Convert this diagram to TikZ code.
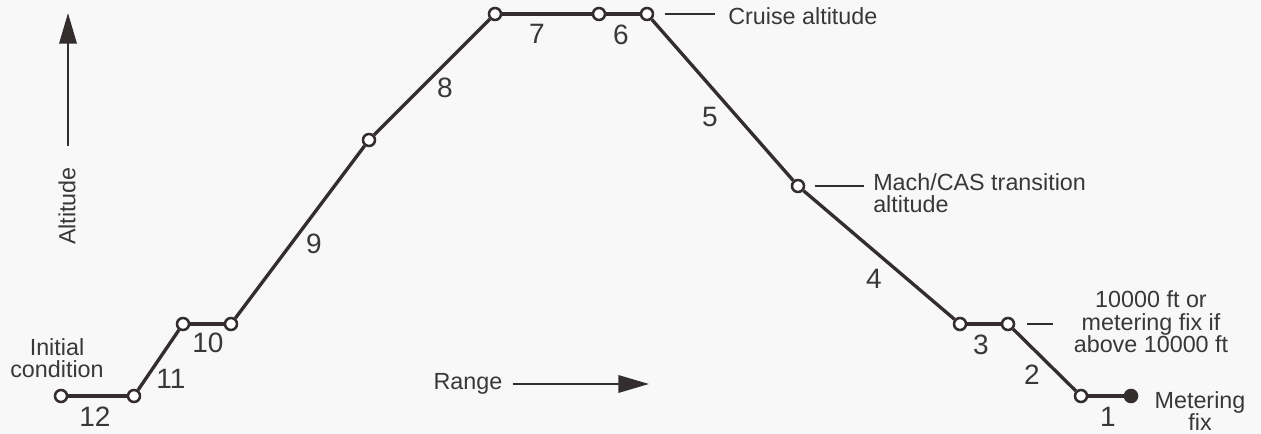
\documentclass[tikz,border=0pt]{standalone}
\usepackage{fontspec}
\setmainfont{Liberation Sans}
\usetikzlibrary{arrows.meta}
\definecolor{ink}{HTML}{332D2D}
\definecolor{txt}{HTML}{383838}
\definecolor{bg}{HTML}{F8F8F8}
\begin{document}
\begin{tikzpicture}[x=0.75pt,y=-0.75pt,
  pt/.style={circle,draw=ink,fill=white,line width=1.9pt,minimum size=9pt,inner sep=0pt},
  endpt/.style={circle,draw=ink,fill=ink,line width=1.9pt,minimum size=9pt,inner sep=0pt},
  seg/.style={draw=ink,line width=2.5pt},
  num/.style={text=txt,font=\fontsize{21}{22}\selectfont,inner sep=0pt},
  lbl/.style={text=txt,font=\fontsize{17.5}{18}\selectfont,inner sep=0pt,align=center},
  lead/.style={draw=ink,line width=1.8pt},
  axis/.style={draw=ink,line width=1.8pt,-{Triangle[length=23pt,width=13pt]}}]
\fill[bg] (0,0) rectangle (1261,434);
\useasboundingbox (0,0) rectangle (1261,434);
% profile points
\node[pt] (p12) at (61,396) {};
\node[pt] (p11) at (134,396) {};
\node[pt] (p10a) at (183,324) {};
\node[pt] (p10b) at (231,324) {};
\node[pt] (p9) at (369,140) {};
\node[pt] (p8) at (495,14) {};
\node[pt] (p7) at (599,14) {};
\node[pt] (p6) at (647,14) {};
\node[pt] (p5) at (798,186) {};
\node[pt] (p4) at (960,324) {};
\node[pt] (p3) at (1008,324) {};
\node[pt] (p2) at (1081,396) {};
\node[endpt] (p1) at (1131,396) {};
% segments
\draw[seg] (p12) -- (p11);
\draw[seg] (p11) -- (p10a);
\draw[seg] (p10a) -- (p10b);
\draw[seg] (p10b) -- (p9);
\draw[seg] (p9) -- (p8);
\draw[seg] (p8) -- (p7);
\draw[seg] (p7) -- (p6);
\draw[seg] (p6) -- (p5);
\draw[seg] (p5) -- (p4);
\draw[seg] (p4) -- (p3);
\draw[seg] (p3) -- (p2);
\draw[seg] (p2) -- (p1);
% segment numbers
\node[num] (n12) at (95,417) {12};
\node[num] (n11) at (171,379) {11};
\node[num] (n10) at (208,343) {10};
\node[num] (n9) at (314,244) {9};
\node[num] (n8) at (445,88) {8};
\node[num] (n7) at (537,34) {7};
\node[num] (n6) at (621,35) {6};
\node[num] (n5) at (710,117) {5};
\node[num] (n4) at (874,279) {4};
\node[num] (n3) at (981,345) {3};
\node[num] (n2) at (1032,375) {2};
\node[num] (n1) at (1108,417) {1};
% annotations
\node[lbl] (init) at (57,358) {Initial\\[-1pt]condition};
\node[lbl,anchor=west] (cruise) at (728,16) {Cruise altitude};
\coordinate (c1) at (665,14);
\coordinate (c2) at (715,14);
\draw[lead] (c1) -- (c2);
\node[lbl,anchor=north west,align=left] (mach) at (873,173) {Mach/CAS transition\\[-1pt]altitude};
\coordinate (m1) at (815,186);
\coordinate (m2) at (864,186);
\draw[lead] (m1) -- (m2);
\node[lbl] (tenk) at (1151,322) {10000 ft or\\[-1pt]metering fix if\\[-1pt]above 10000 ft};
\coordinate (t1) at (1027,324);
\coordinate (t2) at (1053,324);
\draw[lead] (t1) -- (t2);
\node[lbl] (mfix) at (1200,411) {Metering\\[-1pt]fix};
% axes
\coordinate (a0) at (68,146);
\coordinate (a1) at (68,13);
\draw[axis] (a0) -- (a1);
\node[lbl,rotate=90] (alt) at (67,206) {Altitude};
\node[lbl] (rng) at (468,384) {Range};
\coordinate (r0) at (513,384);
\coordinate (r1) at (649,384);
\draw[axis] (r0) -- (r1);
\end{tikzpicture}
\end{document}
